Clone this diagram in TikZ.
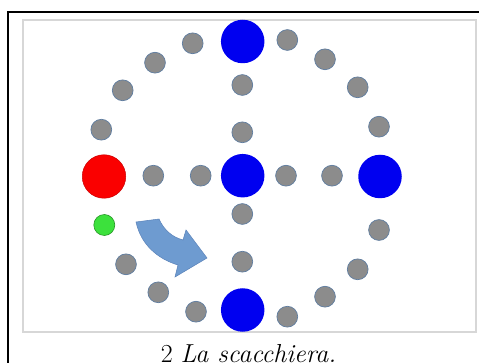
\documentclass[tikz,border=0pt]{standalone}
\definecolor{dotgray}{RGB}{140,140,140}
\definecolor{dotedge}{RGB}{95,125,160}
\definecolor{bigblue}{RGB}{0,0,240}
\definecolor{bigred}{RGB}{250,0,0}
\definecolor{smallgreen}{RGB}{60,225,60}
\definecolor{greenedge}{RGB}{40,150,40}
\definecolor{arrowblue}{RGB}{110,155,208}
\definecolor{arrowedge}{RGB}{90,130,185}
\definecolor{framegray}{RGB}{215,215,215}
\begin{document}
\begin{tikzpicture}[x=1pt,y=-1pt,
  graydot/.style={circle,inner sep=0pt,minimum size=20.8pt,fill=dotgray,draw=dotedge,line width=0.7pt},
  bluebig/.style={circle,inner sep=0pt,minimum size=43.5pt,fill=bigblue},
  redbig/.style={circle,inner sep=0pt,minimum size=43.5pt,fill=bigred,draw=red!80!black,line width=0.5pt},
  greendot/.style={circle,inner sep=0pt,minimum size=21pt,fill=smallgreen,draw=greenedge,line width=0.6pt}]
\useasboundingbox (0,0) rectangle (479,363);
% frames
\draw[framegray,line width=1.2pt] (23,20) rectangle (476,332);
\draw[black,line width=2.6pt] (8,372) -- (8,12) -- (490,12);
% big circles
\node[bluebig] (btop) at (242.7,41.5) {};
\node[bluebig] (bcen) at (242.7,175.7) {};
\node[bluebig] (bright) at (380,176.5) {};
\node[bluebig] (bbot) at (242.7,310) {};
\node[redbig] (red) at (104,176.5) {};
\node[greendot] (green) at (104.3,225) {};
% gray dots
\node[graydot] (g1) at (192.7,43.3) {};
\node[graydot] (g2) at (155,62.7) {};
\node[graydot] (g3) at (122.7,90.3) {};
\node[graydot] (g4) at (101.3,129.7) {};
\node[graydot] (g5) at (287.3,40) {};
\node[graydot] (g6) at (325,59.3) {};
\node[graydot] (g7) at (357.7,87.3) {};
\node[graydot] (g8) at (379,126.7) {};
\node[graydot] (g9) at (242.3,85) {};
\node[graydot] (g10) at (242.3,132.3) {};
\node[graydot] (g11) at (153.3,175.7) {};
\node[graydot] (g12) at (200.7,175.7) {};
\node[graydot] (g13) at (286,175.7) {};
\node[graydot] (g14) at (332,175.7) {};
\node[graydot] (g15) at (242.3,214) {};
\node[graydot] (g16) at (242.3,261.7) {};
\node[graydot] (g17) at (379,230) {};
\node[graydot] (g18) at (357.7,269.3) {};
\node[graydot] (g19) at (325,296.7) {};
\node[graydot] (g20) at (287.3,316.7) {};
\node[graydot] (g21) at (196,311.7) {};
\node[graydot] (g22) at (158.3,292.3) {};
\node[graydot] (g23) at (126,264.3) {};
% curved arrow
\filldraw[fill=arrowblue,draw=arrowedge,line width=0.5pt]
  (136,222) -- (159,219) .. controls (164,230) and (172,237) .. (183,240)
  -- (186,230) -- (207,258) -- (175,277) -- (178,265)
  .. controls (158,259) and (141,245) .. (136,222) -- cycle;
% caption
\node[anchor=base,inner sep=0pt] (cap) at (248.5,362.5) {\fontsize{26}{26}\selectfont 2 \textit{La scacchiera.}};
\end{tikzpicture}
\end{document}
